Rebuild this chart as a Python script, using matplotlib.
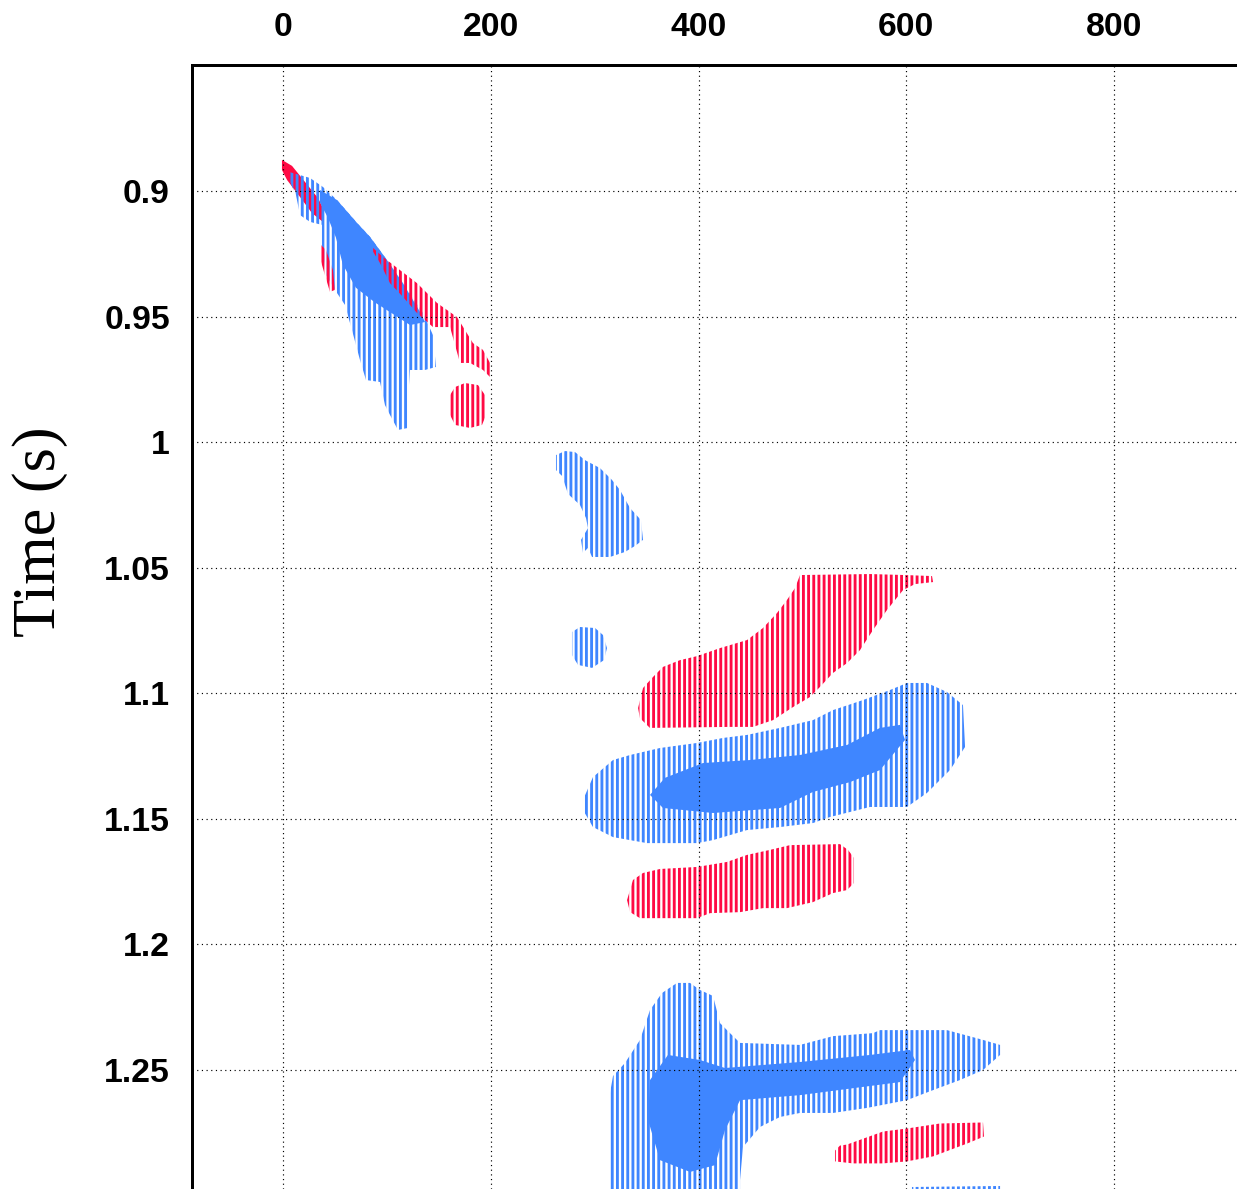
import numpy as np
import matplotlib.pyplot as plt

DPI = 93.5
plt.rcParams['hatch.linewidth'] = 2.2

red = '#ff0a44'
blue = '#3f86ff'

x_ticks = [0, 200, 400, 600, 800]
t_ticks = [0.9, 0.95, 1.0, 1.05, 1.1, 1.15, 1.2, 1.25]
t_labels = ['0.9', '0.95', '1', '1.05', '1.1', '1.15', '1.2', '1.25']

red_a_x = [-1, 8.7, 21.2, 33.7, 39.5, 37.5, 27.9, 16.4, 3.9, -1]
red_a_t = [0.8876, 0.8900, 0.8964, 0.9028, 0.9076, 0.9120, 0.9088, 0.9024, 0.8956, 0.8916]

blue_b_x = [5.8, 26, 38.5, 52, 71.2, 83.8, 100.1, 115.5, 134.8, 144.4, 147.3, 136.7, 122.3,
            120.3, 120.3, 110.7, 103, 98.2, 93.4, 79.9, 74.1, 66.4, 59.7, 50, 41.4, 37.5,
            37.5, 26, 16.4, 12.5, 5.8]
blue_b_t = [0.8924, 0.8948, 0.8984, 0.9036, 0.9127, 0.9183, 0.9275, 0.9367, 0.9486, 0.9574,
            0.9701, 0.9713, 0.9713, 0.9833, 0.9944, 0.9952, 0.9892, 0.9853, 0.9761, 0.9753,
            0.9673, 0.9554, 0.9454, 0.9394, 0.9335, 0.9215, 0.9135, 0.9123, 0.9096, 0.9016,
            0.8956]
blue_b_core_x = [35.6, 52, 71.2, 83.8, 100.1, 115.5, 131.9, 136.7, 122.3, 105.9, 88.5, 70.1,
                 57.6, 50.9, 43.2, 35.6]
blue_b_core_t = [0.8996, 0.9036, 0.9127, 0.9183, 0.9275, 0.9367, 0.9482, 0.9522, 0.9534,
                 0.9490, 0.9444, 0.9385, 0.9293, 0.9185, 0.9106, 0.9046]

red_c_x = [85.7, 96.3, 112.6, 129, 148.3, 167.5, 182.9, 192.5, 199.3, 199.3, 192.5, 180,
           170.4, 160.8, 144.4, 129, 115.5, 103, 93.4, 85.7]
red_c_t = [0.9223, 0.9263, 0.9315, 0.9367, 0.9446, 0.9502, 0.9606, 0.9633, 0.9685, 0.9741,
           0.9713, 0.9685, 0.9685, 0.9542, 0.9542, 0.9486, 0.9422, 0.9367, 0.9287, 0.9235]
red_c2_x = [36.6, 41.4, 48.1, 50, 45.2, 39.5, 35.6]
red_c2_t = [0.9215, 0.9235, 0.9315, 0.9394, 0.9402, 0.9323, 0.9267]

red_d_x = [160.8, 165.6, 175.2, 187.7, 194.5, 195.5, 191.6, 180, 165.6, 160.8]
red_d_t = [0.9813, 0.9781, 0.9765, 0.9773, 0.9813, 0.9892, 0.9932, 0.9944, 0.9932, 0.9892]

blue_e_x = [262.8, 271.5, 281.1, 290.7, 305.2, 316.7, 324.4, 334.1, 344.6, 346.6, 338.9,
            329.2, 314.8, 297.5, 293.6, 288.8, 286.9, 293.6, 291.7, 285.9, 274.4, 268.6, 262.8]
blue_e_t = [1.0052, 1.0036, 1.0040, 1.0072, 1.0104, 1.0151, 1.0191, 1.0263, 1.0311, 1.0390,
            1.0414, 1.0438, 1.0458, 1.0458, 1.0422, 1.0442, 1.0390, 1.0343, 1.0303, 1.0251,
            1.0207, 1.0135, 1.0112]

blue_f_x = [278.2, 285.9, 300.4, 308.1, 311.9, 309, 297.5, 284, 278.2]
blue_f_t = [1.0757, 1.0737, 1.0741, 1.0769, 1.0821, 1.0869, 1.0900, 1.0888, 1.0849]

red_g_x = [341.8, 346.6, 356.2, 365.8, 382.2, 398.6, 420.7, 446.7, 462.1, 475.6, 485.2,
           492.9, 497.7, 565.1, 598.8, 624.8, 625.8, 608.4, 596.9, 581.5, 568, 555.5, 542.9,
           529.5, 516.9, 507.3, 491, 471.7, 452.5, 430.3, 353.2, 343.6]
red_g_t = [1.1060, 1.0980, 1.0936, 1.0896, 1.0869, 1.0853, 1.0821, 1.0789, 1.0741, 1.0681,
           1.0629, 1.0582, 1.0530, 1.0526, 1.0530, 1.0534, 1.0558, 1.0566, 1.0590, 1.0669,
           1.0749, 1.0829, 1.0881, 1.0920, 1.0976, 1.1016, 1.1056, 1.1108, 1.1135, 1.1135,
           1.1139, 1.1100]

blue_h_x = [288.8, 298.4, 317.7, 334.1, 363, 398.6, 423.6, 446.7, 478.5, 510.2, 529.5,
            558.4, 584.4, 600.7, 620, 639.2, 654.6, 656.6, 642.1, 620, 600.7, 565.1, 526.6,
            510.2, 478.5, 446.7, 414, 398.6, 350.4, 317.7, 298.4, 288.8]
blue_h_t = [1.1426, 1.1335, 1.1267, 1.1247, 1.1219, 1.1199, 1.1179, 1.1167, 1.1139, 1.1108,
            1.1068, 1.1028, 1.0988, 1.0960, 1.0960, 1.0996, 1.1048, 1.1215, 1.1307, 1.1398,
            1.1454, 1.1454, 1.1494, 1.1518, 1.1534, 1.1546, 1.1586, 1.1598, 1.1598, 1.1574,
            1.1534, 1.1466]
blue_h_core_x = [353.3, 367.7, 404.3, 449.5, 497.7, 543, 574.7, 594, 598.8, 574.7, 545.8,
                 510.2, 478.5, 414, 365.8]
blue_h_core_t = [1.1406, 1.1338, 1.1279, 1.1267, 1.1247, 1.1207, 1.1139, 1.1127, 1.1187,
                 1.1307, 1.1355, 1.1394, 1.1458, 1.1478, 1.1458]

red_i_x = [331.2, 336.9, 346.6, 363, 398.6, 427.4, 446.7, 468.8, 488.1, 536.2, 543.9, 549.7,
           549.7, 542.9, 529.5, 510.2, 485.2, 462.1, 440, 411.1, 398.6, 343.7, 334.1]
red_i_t = [1.1825, 1.1745, 1.1717, 1.1701, 1.1693, 1.1673, 1.1645, 1.1625, 1.1606, 1.1602,
           1.1625, 1.1657, 1.1757, 1.1785, 1.1797, 1.1833, 1.1857, 1.1857, 1.1873, 1.1877,
           1.1897, 1.1897, 1.1873]

blue_j_x = [314.8, 314.8, 317.7, 329.2, 343.7, 353.3, 364.9, 379.3, 391.8, 401.4, 414, 420.7,
            430.3, 440, 497.7, 529.5, 568, 574.7, 639.2, 673.9, 690.3, 690.3, 673.9, 651.7,
            625.8, 600.7, 562.2, 529.5, 497.7, 478.5, 459.2, 442.8, 440, 440]
blue_j_t = [1.3020, 1.2594, 1.2526, 1.2474, 1.2382, 1.2263, 1.2195, 1.2155, 1.2155, 1.2183,
            1.2207, 1.2315, 1.2355, 1.2394, 1.2402, 1.2367, 1.2355, 1.2343, 1.2343, 1.2382,
            1.2402, 1.2442, 1.2502, 1.2542, 1.2582, 1.2622, 1.2653, 1.2673, 1.2673, 1.2689,
            1.2729, 1.2809, 1.2940, 1.3020]
blue_j_core_x = [353.3, 370.6, 401.4, 425.5, 497.7, 565.1, 603.6, 608.4, 594, 497.7, 440,
                 425.5, 415.9, 391.8, 362.9, 351.4]
blue_j_core_t = [1.2542, 1.2442, 1.2462, 1.2494, 1.2470, 1.2442, 1.2422, 1.2462, 1.2550,
                 1.2602, 1.2622, 1.2741, 1.2881, 1.2908, 1.2861, 1.2701]

red_k_x = [531.4, 536.2, 542.9, 577.6, 600.7, 632.5, 673.9, 674.8, 658.5, 625.8, 600.7,
           577.6, 548.7, 531.4]
red_k_t = [1.2823, 1.2803, 1.2799, 1.2747, 1.2735, 1.2715, 1.2711, 1.2767, 1.2795, 1.2846,
           1.2866, 1.2874, 1.2874, 1.2866]

blue_l_x = [605.5, 690.3, 690.3, 605.5]
blue_l_t = [1.2968, 1.2964, 1.3020, 1.3020]

fig = plt.figure(figsize=(1237 / DPI, 1189 / DPI), dpi=DPI)
ax = fig.add_axes([192 / 1237, 0, 1045 / 1237, 1124 / 1189])

events = [
    (red_a_x, red_a_t, red, '||||||'),
    (blue_b_x, blue_b_t, blue, '|||'),
    (blue_b_core_x, blue_b_core_t, blue, '||||||'),
    (red_c_x, red_c_t, red, '|||'),
    (red_c2_x, red_c2_t, red, '|||'),
    (red_d_x, red_d_t, red, '|||'),
    (blue_e_x, blue_e_t, blue, '|||'),
    (blue_f_x, blue_f_t, blue, '|||'),
    (red_g_x, red_g_t, red, '|||'),
    (blue_h_x, blue_h_t, blue, '|||'),
    (blue_h_core_x, blue_h_core_t, blue, '||||||'),
    (red_i_x, red_i_t, red, '|||'),
    (blue_j_x, blue_j_t, blue, '|||'),
    (blue_j_core_x, blue_j_core_t, blue, '||||||'),
    (red_k_x, red_k_t, red, '|||'),
    (blue_l_x, blue_l_t, blue, '|||'),
]
for xs, ts, c, h in events:
    ax.fill(xs, ts, facecolor='none', edgecolor=c, linewidth=0, hatch=h)

ax.set_xlim(-87.6, 918.4)
ax.set_ylim(1.2976, 0.8498)

ax.xaxis.tick_top()
ax.set_xticks(x_ticks)
ax.set_xticklabels([str(v) for v in x_ticks], fontsize=26, fontweight='bold',
                   family='Liberation Sans')
ax.set_yticks(t_ticks)
ax.set_yticklabels(t_labels, fontsize=26, fontweight='bold', family='Liberation Sans')
ax.tick_params(axis='x', length=0, pad=17)
ax.tick_params(axis='y', length=0, pad=17)

ax.set_axisbelow(False)
ax.grid(True, color='black', linestyle=(0, (1, 3)), linewidth=0.9)

for side in ['right', 'bottom']:
    ax.spines[side].set_visible(False)
for side in ['top', 'left']:
    ax.spines[side].set_linewidth(2.3)

ax.set_ylabel('Time (s)', fontsize=48, family='Liberation Serif', va='center')
ax.yaxis.set_label_coords(-0.1455, 0.5845)

fig.savefig('out.png', dpi=DPI)
